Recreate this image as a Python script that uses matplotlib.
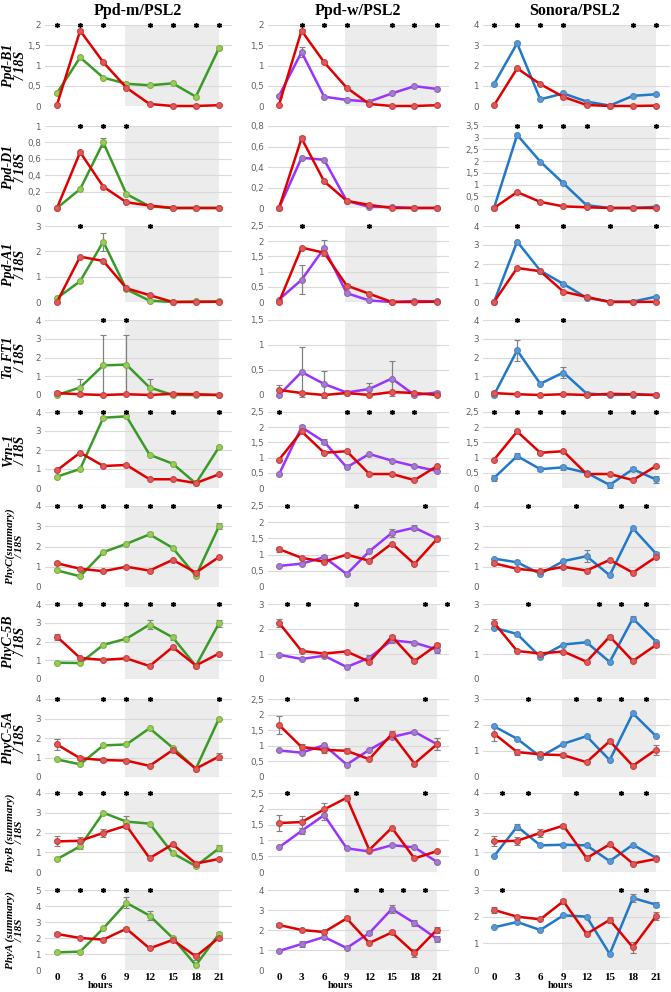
import matplotlib
matplotlib.use("Agg")
import matplotlib.pyplot as plt
import matplotlib.transforms as mtransforms
import numpy as np

# ---------------- data ----------------
times = [0, 3, 6, 9, 12, 15, 18, 21]
col_titles = ["Ppd-m/PSL2", "Ppd-w/PSL2", "Sonora/PSL2"]
genes = ["Ppd-B1", "Ppd-D1", "Ppd-A1", "Ta FT1", "Vrn-1",
         "PhyC(summary)", "PhyC-5B", "PhyC-5A", "PhyB (summary)", "PhyA (summary)"]

# PSL2 (red, shared by all three columns)
psl2_B1 = [0.03, 1.86, 1.08, 0.45, 0.05, 0.0, 0.0, 0.02]
psl2_D1 = [0.0, 0.68, 0.26, 0.07, 0.03, 0.0, 0.0, 0.0]
psl2_A1 = [0.0, 1.79, 1.62, 0.54, 0.27, 0.0, 0.0, 0.01]
psl2_FT1 = [0.10, 0.04, 0.0, 0.04, 0.0, 0.06, 0.04, 0.0]
psl2_Vrn1 = [0.93, 1.86, 1.16, 1.21, 0.46, 0.46, 0.26, 0.72]
psl2_PhyC = [1.17, 0.90, 0.78, 1.00, 0.81, 1.34, 0.71, 1.48]
psl2_PhyC5B = [2.25, 1.12, 1.02, 1.10, 0.69, 1.70, 0.72, 1.36]
psl2_PhyC5A = [1.67, 0.96, 0.87, 0.84, 0.57, 1.38, 0.43, 1.05]
psl2_PhyB = [1.55, 1.58, 1.98, 2.35, 0.70, 1.40, 0.43, 0.66]
psl2_PhyA = [2.25, 2.00, 1.90, 2.58, 1.35, 1.88, 0.85, 2.02]

psl2_err_B1 = [0, 0.03, 0.03, 0, 0, 0, 0, 0]
psl2_err_D1 = [0, 0.02, 0, 0, 0, 0, 0, 0]
psl2_err_A1 = [0, 0, 0, 0.05, 0, 0, 0, 0]
psl2_err_FT1 = [0.1, 0, 0, 0, 0, 0, 0, 0]
psl2_err_Vrn1 = [0, 0.04, 0, 0, 0, 0, 0, 0]
psl2_err_PhyC = [0.08, 0, 0.05, 0, 0, 0, 0, 0]
psl2_err_PhyC5B = [0.15, 0, 0, 0, 0, 0.08, 0, 0.08]
psl2_err_PhyC5A = [0.3, 0.1, 0.1, 0.08, 0, 0.08, 0, 0.2]
psl2_err_PhyB = [0.25, 0.2, 0.2, 0.1, 0, 0, 0, 0]
psl2_err_PhyA = [0.1, 0, 0, 0.1, 0, 0.1, 0.2, 0.15]

# Ppd-m (green)
m_B1 = [0.32, 1.20, 0.70, 0.55, 0.51, 0.56, 0.23, 1.43]
m_D1 = [0.0, 0.23, 0.80, 0.17, 0.02, 0.0, 0.0, 0.0]
m_A1 = [0.15, 0.82, 2.38, 0.50, 0.05, 0.0, 0.02, 0.02]
m_FT1 = [0.0, 0.40, 1.58, 1.62, 0.40, 0.0, 0.0, 0.0]
m_Vrn1 = [0.60, 1.00, 3.70, 3.77, 1.75, 1.28, 0.24, 2.15]
m_PhyC = [0.82, 0.53, 1.72, 2.13, 2.60, 1.93, 0.55, 3.00]
m_PhyC5B = [0.87, 0.85, 1.82, 2.15, 2.90, 2.22, 0.70, 2.97]
m_PhyC5A = [0.90, 0.65, 1.62, 1.67, 2.50, 1.50, 0.42, 3.00]
m_PhyB = [0.65, 1.30, 3.00, 2.55, 2.45, 0.95, 0.30, 1.20]
m_PhyA = [1.10, 1.15, 2.60, 4.20, 3.40, 2.00, 0.30, 2.25]

m_err_B1 = [0, 0, 0, 0, 0, 0, 0, 0.04]
m_err_D1 = [0, 0, 0.05, 0, 0, 0, 0, 0]
m_err_A1 = [0, 0, 0.35, 0, 0, 0, 0, 0]
m_err_FT1 = [0, 0.45, 1.6, 1.6, 0.45, 0, 0, 0]
m_err_Vrn1 = [0, 0, 0.06, 0, 0, 0, 0, 0.06]
m_err_PhyC = [0, 0, 0, 0, 0.1, 0, 0, 0.15]
m_err_PhyC5B = [0, 0, 0, 0.08, 0.25, 0.15, 0, 0.2]
m_err_PhyC5A = [0, 0, 0, 0, 0, 0, 0, 0]
m_err_PhyB = [0, 0.15, 0, 0.3, 0, 0, 0, 0.15]
m_err_PhyA = [0, 0, 0, 0.35, 0.3, 0, 0, 0.1]

# Ppd-w (purple)
w_B1 = [0.25, 1.33, 0.23, 0.15, 0.11, 0.31, 0.49, 0.42]
w_D1 = [0.0, 0.49, 0.47, 0.07, 0.01, 0.01, 0.0, 0.0]
w_A1 = [0.08, 0.73, 1.77, 0.29, 0.05, 0.0, 0.03, 0.02]
w_FT1 = [0.0, 0.46, 0.22, 0.05, 0.12, 0.33, 0.0, 0.05]
w_Vrn1 = [0.45, 2.00, 1.52, 0.68, 1.12, 0.90, 0.72, 0.56]
w_PhyC = [0.65, 0.72, 0.92, 0.40, 1.10, 1.67, 1.83, 1.50]
w_PhyC5B = [0.97, 0.80, 0.93, 0.48, 0.85, 1.55, 1.45, 1.18]
w_PhyC5A = [0.85, 0.78, 1.02, 0.40, 0.87, 1.28, 1.45, 1.05]
w_PhyB = [0.78, 1.30, 1.80, 0.75, 0.65, 0.85, 0.78, 0.32]
w_PhyA = [0.95, 1.30, 1.65, 1.10, 1.85, 3.05, 2.35, 1.55]

w_err_B1 = [0, 0.13, 0, 0, 0, 0, 0, 0]
w_err_D1 = [0, 0, 0, 0, 0, 0, 0, 0]
w_err_A1 = [0, 0.48, 0.27, 0, 0, 0, 0, 0]
w_err_FT1 = [0, 0.5, 0.27, 0.03, 0.12, 0.35, 0, 0.03]
w_err_Vrn1 = [0, 0.08, 0.08, 0, 0, 0, 0, 0]
w_err_PhyC = [0, 0, 0.08, 0, 0, 0.12, 0.07, 0]
w_err_PhyC5B = [0, 0, 0, 0, 0.12, 0.1, 0.08, 0.12]
w_err_PhyC5A = [0, 0, 0, 0, 0, 0, 0, 0.2]
w_err_PhyB = [0, 0.1, 0.15, 0, 0, 0, 0, 0]
w_err_PhyA = [0, 0.15, 0, 0, 0.1, 0.2, 0.15, 0.15]

# Sonora (blue)
s_B1 = [1.08, 3.10, 0.33, 0.62, 0.22, 0.02, 0.50, 0.58]
s_D1 = [0.0, 3.12, 1.98, 1.05, 0.12, 0.0, 0.0, 0.05]
s_A1 = [0.0, 3.18, 1.65, 0.95, 0.22, 0.02, 0.02, 0.28]
s_FT1 = [0.0, 2.38, 0.60, 1.20, 0.08, 0.0, 0.02, 0.0]
s_Vrn1 = [0.33, 1.05, 0.62, 0.68, 0.50, 0.10, 0.62, 0.28]
s_PhyC = [1.40, 1.22, 0.65, 1.28, 1.52, 0.58, 2.90, 1.65]
s_PhyC5B = [2.05, 1.80, 0.88, 1.38, 1.47, 0.68, 2.42, 1.50]
s_PhyC5A = [1.95, 1.47, 0.78, 1.28, 1.57, 0.65, 2.45, 1.57]
s_PhyB = [0.80, 2.30, 1.35, 1.38, 1.35, 0.55, 1.38, 0.72]
s_PhyA = [1.60, 1.80, 1.50, 2.05, 2.00, 0.60, 2.70, 2.45]

s_err_B1 = [0, 0.08, 0, 0, 0, 0, 0, 0]
s_err_D1 = [0, 0, 0, 0, 0, 0, 0, 0]
s_err_A1 = [0, 0, 0, 0, 0, 0, 0, 0]
s_err_FT1 = [0, 0.55, 0, 0.3, 0.1, 0, 0, 0]
s_err_Vrn1 = [0.1, 0.1, 0.07, 0.08, 0.07, 0.1, 0.07, 0.1]
s_err_PhyC = [0, 0, 0, 0, 0.3, 0, 0, 0.1]
s_err_PhyC5B = [0, 0, 0, 0, 0, 0, 0.1, 0]
s_err_PhyC5A = [0, 0, 0, 0, 0, 0, 0, 0]
s_err_PhyB = [0, 0.15, 0, 0, 0, 0, 0, 0]
s_err_PhyA = [0, 0, 0, 0, 0, 0, 0.15, 0.1]

# y-axis maxima and steps per panel [row][col]
y_max = [[2, 2, 4], [1, 0.8, 3.5], [3, 2.5, 4], [4, 1.5, 4], [4, 2.5, 2.5],
         [4, 2.5, 4], [4, 3, 3], [4, 2.5, 3], [4, 2.5, 4], [5, 4, 3]]
y_step = [[0.5, 0.5, 1], [0.2, 0.2, 0.5], [1, 0.5, 1], [1, 0.5, 1], [1, 0.5, 0.5],
          [1, 0.5, 1], [1, 1, 1], [1, 0.5, 1], [1, 0.5, 1], [1, 1, 1]]

# significance asterisk positions (hours) [row][col]
stars = [
    [[0, 3, 6, 12, 15, 18, 21], [3, 6, 9, 15, 18, 21], [0, 3, 6, 9, 18, 21]],
    [[3, 6, 9], [], [3, 6, 9, 12, 21]],
    [[3, 12], [3, 12], [3, 9, 15, 21]],
    [[6, 9], [], [3, 9]],
    [[0, 3, 6, 9, 12, 15, 21], [0, 9, 12, 15, 18], [0, 3, 6, 9, 15, 18, 21]],
    [[0, 3, 6, 9, 12, 15, 21], [1, 10.2, 19.4], [4.4, 10.6, 16.5, 19.7]],
    [[0, 3, 6, 9, 12, 15, 21], [1, 3.9, 10.2, 19.4, 22.3], [4.4, 13.6, 16.5, 19.7]],
    [[0, 6, 9, 12, 21], [1, 10.2, 19.4], [4.4, 10.6, 13.6, 16.5, 19.7]],
    [[0, 3, 6, 9, 12], [1, 10.2, 19.4], [1, 4.4, 10.6, 16.5, 19.7]],
    [[0, 3, 6, 9, 12], [10.2, 13.6, 16.5, 19.4], [1, 16.5, 19.7]],
]

psl2 = [psl2_B1, psl2_D1, psl2_A1, psl2_FT1, psl2_Vrn1, psl2_PhyC, psl2_PhyC5B, psl2_PhyC5A, psl2_PhyB, psl2_PhyA]
psl2_err = [psl2_err_B1, psl2_err_D1, psl2_err_A1, psl2_err_FT1, psl2_err_Vrn1, psl2_err_PhyC,
            psl2_err_PhyC5B, psl2_err_PhyC5A, psl2_err_PhyB, psl2_err_PhyA]
lines_m = [m_B1, m_D1, m_A1, m_FT1, m_Vrn1, m_PhyC, m_PhyC5B, m_PhyC5A, m_PhyB, m_PhyA]
lines_w = [w_B1, w_D1, w_A1, w_FT1, w_Vrn1, w_PhyC, w_PhyC5B, w_PhyC5A, w_PhyB, w_PhyA]
lines_s = [s_B1, s_D1, s_A1, s_FT1, s_Vrn1, s_PhyC, s_PhyC5B, s_PhyC5A, s_PhyB, s_PhyA]
err_m = [m_err_B1, m_err_D1, m_err_A1, m_err_FT1, m_err_Vrn1, m_err_PhyC, m_err_PhyC5B, m_err_PhyC5A, m_err_PhyB, m_err_PhyA]
err_w = [w_err_B1, w_err_D1, w_err_A1, w_err_FT1, w_err_Vrn1, w_err_PhyC, w_err_PhyC5B, w_err_PhyC5A, w_err_PhyB, w_err_PhyA]
err_s = [s_err_B1, s_err_D1, s_err_A1, s_err_FT1, s_err_Vrn1, s_err_PhyC, s_err_PhyC5B, s_err_PhyC5A, s_err_PhyB, s_err_PhyA]

# ---------------- styling ----------------
RED = dict(color="#e00000", mfc="#e05a5a", mec="#c84040")
GREEN = dict(color="#3a9a28", mfc="#9ccc55", mec="#78b048")
PURPLE = dict(color="#9933ff", mfc="#a77ad8", mec="#8a6aa8")
BLUE = dict(color="#1f78c8", mfc="#5a98d8", mec="#4a86c0")
col_styles = [GREEN, PURPLE, BLUE]
col_data = [lines_m, lines_w, lines_s]
col_err = [err_m, err_w, err_s]

W, H = 671, 992
fig = plt.figure(figsize=(W / 100, H / 100), dpi=100)

# pixel anchors
cols_px = [(45, 232, 57, 219), (268, 449, 279, 437), (483, 670, 494, 656)]
rows_px = [(25, 106), (126, 208), (226, 302), (320, 395), (412, 488),
           (506, 587), (604, 679), (699, 777), (793, 872), (890, 970)]
hours_x = [5.6, 8.1, 8.6]

SERIF = "Liberation Serif"


def fmt(v):
    s = ("%g" % round(v, 2))
    return s.replace(".", ",")


def draw_series(ax, y, err, st):
    ax.errorbar(times, y, yerr=err, color=st["color"], lw=1.8, marker="o", ms=4.2,
                mfc=st["mfc"], mec=st["mec"], mew=0.8, ecolor="#808080",
                elinewidth=0.9, capsize=2.2, capthick=0.9, zorder=3, clip_on=False)


for r in range(10):
    top, bot = rows_px[r]
    for c in range(3):
        l, rr, x0p, x21p = cols_px[c]
        ppu = (x21p - x0p) / 21.0
        xl = (l - x0p) / ppu
        xr = (rr - x0p) / ppu
        ax = fig.add_axes([l / W, 1 - bot / H, (rr - l) / W, (bot - top) / H])
        ymax = y_max[r][c]
        ax.set_xlim(xl, xr)
        ax.set_ylim(0, ymax)
        for sp in ax.spines.values():
            sp.set_visible(False)
        ax.axvspan(8.8, 21, ymin=0, ymax=1, color="#ececec", zorder=0, lw=0)
        yt = np.arange(0, ymax + 1e-6, y_step[r][c])
        ax.set_yticks(yt)
        ax.set_yticklabels([fmt(v) for v in yt])
        ax.tick_params(axis="y", length=0, pad=3, labelsize=6.3, labelcolor="#606060")
        for v in yt:
            ax.axhline(v, color="#d9d9d9", lw=0.8, zorder=1)
        # series
        draw_series(ax, col_data[c][r], col_err[c][r], col_styles[c])
        draw_series(ax, psl2[r], psl2_err[r], RED)
        # asterisks
        sx = stars[r][c]
        if sx:
            ax.plot(sx, [ymax] * len(sx), linestyle="none", marker=(6, 2, 0), ms=3.6,
                    mew=1.0, color="black", zorder=4, clip_on=False)
        if r == 9:
            ax.set_xticks(times)
            ax.set_xticklabels([str(t) for t in times], fontfamily=SERIF,
                               fontweight="bold", fontsize=8)
            ax.tick_params(axis="x", length=0, pad=2)
            ax.text(hours_x[c], 1 - 985 / H, "hours",
                    transform=mtransforms.blended_transform_factory(ax.transData, fig.transFigure),
                    ha="center", va="center", fontfamily=SERIF, fontweight="bold",
                    fontsize=7.5)
        else:
            ax.set_xticks([])
        if r == 0:
            ax.text((x0p + x21p) / 2 / W, 1 - 11 / H, col_titles[c], transform=fig.transFigure,
                    ha="center", va="center", fontfamily=SERIF, fontweight="bold",
                    fontsize=11.5)
    # row labels
    g = genes[r]
    small = "summary" in g
    fig.text(15 / W, 1 - (top + bot) / 2 / H, g + "\n/ 18S", rotation=90,
             ha="center", va="center", multialignment="center",
             fontfamily=SERIF, fontweight="bold", fontstyle="italic",
             fontsize=8 if small else 10, linespacing=1.0)

fig.savefig("out.png", dpi=100)
